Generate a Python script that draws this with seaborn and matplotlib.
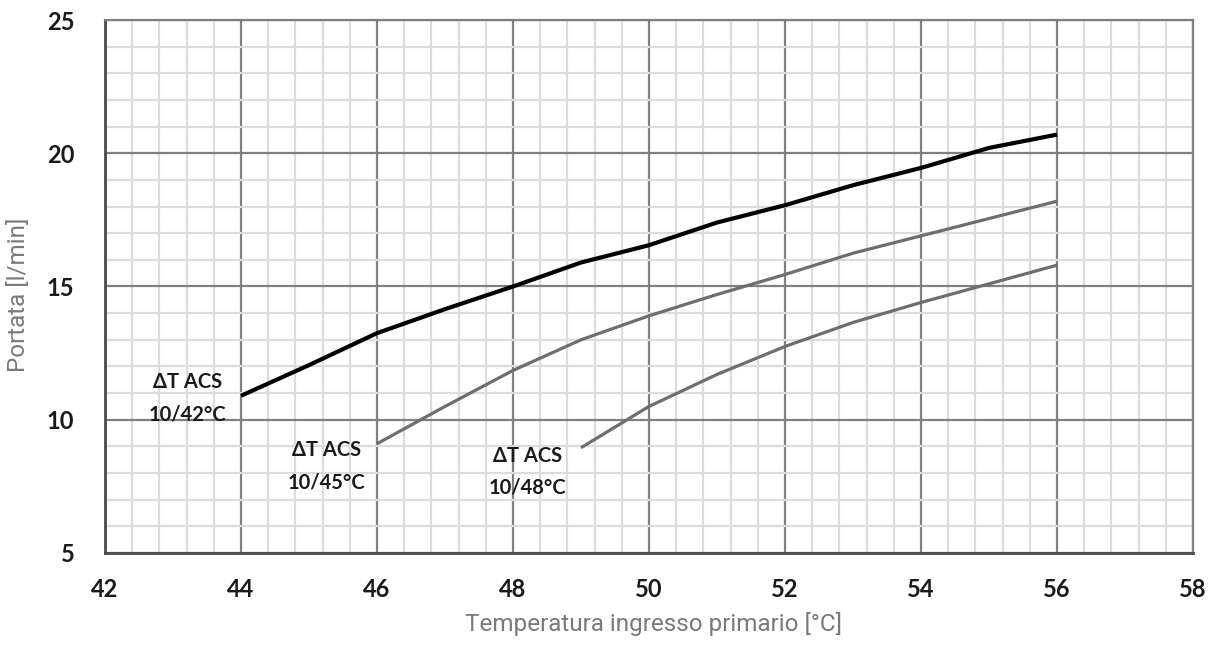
import numpy as np
import pandas as pd
import matplotlib
matplotlib.use("Agg")
import matplotlib.pyplot as plt
from matplotlib.ticker import MultipleLocator
import seaborn as sns

# ---- data ----
x_42 = [44, 45, 46, 47, 48, 49, 50, 51, 52, 53, 54, 55, 56]
y_42 = [10.9, 12.05, 13.25, 14.15, 15.0, 15.9, 16.55, 17.4, 18.05, 18.8, 19.45, 20.2, 20.7]
x_45 = [46, 47, 48, 49, 50, 51, 52, 53, 54, 55, 56]
y_45 = [9.1, 10.5, 11.85, 13.0, 13.9, 14.7, 15.45, 16.25, 16.9, 17.55, 18.2]
x_48 = [49, 50, 51, 52, 53, 54, 55, 56]
y_48 = [8.95, 10.5, 11.7, 12.75, 13.65, 14.4, 15.1, 15.8]
series_names = ["10/42°C", "10/45°C", "10/48°C"]
label_pos = [(43.22, 10.8), (45.26, 8.26), (48.22, 8.04)]
x_ticks = [42, 44, 46, 48, 50, 52, 54, 56, 58]
y_ticks = [5, 10, 15, 20, 25]
x_label = "Temperatura ingresso primario [°C]"
y_label = "Portata [l/min]"

df = pd.concat([
    pd.DataFrame({"T": x_42, "Q": y_42, "serie": series_names[0]}),
    pd.DataFrame({"T": x_45, "Q": y_45, "serie": series_names[1]}),
    pd.DataFrame({"T": x_48, "Q": y_48, "serie": series_names[2]}),
])

sns.set_style("white")
plt.rcParams["font.family"] = ["Lato", "DejaVu Sans"]

fig = plt.figure(figsize=(12.11, 6.45), dpi=100)
ax = fig.add_axes([105/1211, 1-553/645, (1193-105)/1211, (553-20)/645])

palette = {series_names[0]: "#000000", series_names[1]: "#6e6e6e", series_names[2]: "#6e6e6e"}
sizes = {series_names[0]: 3.0, series_names[1]: 2.3, series_names[2]: 2.3}
for name in series_names:
    sub = df[df["serie"] == name]
    sns.lineplot(data=sub, x="T", y="Q", color=palette[name], linewidth=sizes[name],
                 ax=ax, legend=False, zorder=5, solid_capstyle="butt",
                 solid_joinstyle="round")

ax.set_xlim(42, 58)
ax.set_ylim(5, 25)
ax.set_xticks(x_ticks)
ax.set_yticks(y_ticks)
ax.xaxis.set_minor_locator(MultipleLocator(0.4))
ax.yaxis.set_minor_locator(MultipleLocator(1))
ax.grid(which="minor", color="#dcdcdc", linewidth=1.6, zorder=0)
ax.grid(which="major", color="#808080", linewidth=1.6, zorder=1)
ax.set_axisbelow(True)
ax.tick_params(which="both", length=0)
ax.tick_params(axis="x", pad=18)
ax.tick_params(axis="y", pad=22)
for lab in ax.get_xticklabels() + ax.get_yticklabels():
    lab.set_fontweight("bold")
    lab.set_fontsize(17)
    lab.set_color("#1a1a1a")

for side in ["top", "right"]:
    ax.spines[side].set_color("#808080")
    ax.spines[side].set_linewidth(1.6)
for side in ["left", "bottom"]:
    ax.spines[side].set_color("#4a4a4a")
    ax.spines[side].set_linewidth(2.0)

lab_font = ["Roboto", "DejaVu Sans"]
ax.set_xlabel(x_label, fontsize=17.5, color="#7a7a7a", family=lab_font)
ax.set_ylabel(y_label, fontsize=17.5, color="#7a7a7a", family=lab_font)
ax.xaxis.set_label_coords(0.5 * (463 + 845) / 1088 - 105 / 1088, (553 - 612) / 533)
ax.yaxis.set_label_coords((30 - 105) / 1088, (553 - 295) / 533)

for name, (lx, ly) in zip(series_names, label_pos):
    ax.text(lx, ly, "ΔT ACS\n" + name, ha="center", va="center", fontsize=14.5,
            fontweight="bold", color="#1a1a1a", linespacing=1.75, zorder=6)

fig.savefig("out.png", dpi=100)
